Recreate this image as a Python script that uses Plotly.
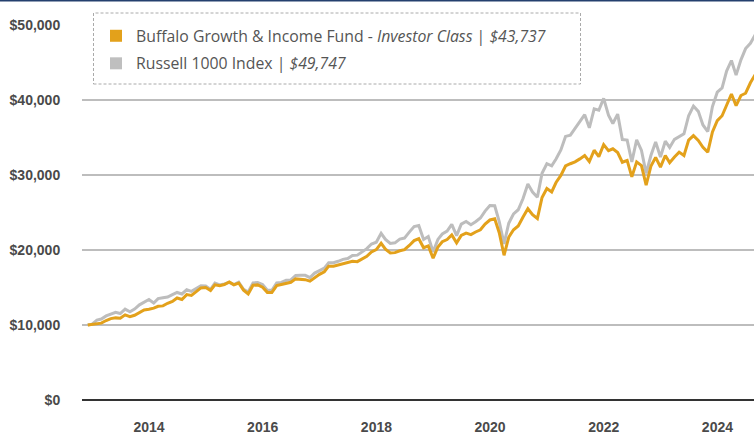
import pandas as pd
import plotly.graph_objects as go

# ---- data ----
start_date = "2012-12-03"
first_month_end = "2012-12-31"
n_month_ends = 142

fund_values = [
    10000, 10060,
    10150, 10250, 10600, 10850, 10950, 10900, 11350, 11100, 11300, 11700, 12000, 12100,
    12250, 12500, 12550, 12900, 13150, 13600, 13400, 14050, 13950, 14450, 14950, 15000,
    14600, 15350, 15250, 15400, 15750, 15350, 15600, 14650, 14150, 15300, 15350, 15050,
    14350, 14350, 15250, 15400, 15600, 15700, 16150, 16150, 16050, 15850, 16350, 16750,
    17100, 17850, 17850, 18000, 18200, 18300, 18500, 18450, 18800, 19150, 19750, 20050,
    20900, 20100, 19600, 19650, 19900, 20050, 20600, 21250, 21500, 20300, 20550, 18900,
    20400, 21100, 21400, 22000, 20950, 21950, 22250, 22050, 22400, 22700, 23450, 24000,
    24150, 22300, 19300, 21700, 22700, 23200, 24400, 25500, 24700, 24200, 27000, 28200,
    27750, 29000, 29950, 31200, 31500, 31750, 32150, 32600, 31800, 33300, 32450, 34050,
    33250, 33500, 33000, 31700, 31950, 29750, 31750, 31250, 28650, 31200, 32350, 31050,
    32600, 31650, 32400, 33050, 32600, 34650, 35250, 34600, 33700, 33050, 35750, 37250,
    37900, 39400, 40800, 39250, 40600, 40900, 42300, 43400, 43737,
]

index_values = [
    10000, 10120,
    10646, 10795, 11205, 11418, 11681, 11529, 12117, 11766, 12130, 12688, 13069, 13396,
    12927, 13522, 13630, 13725, 14041, 14336, 14135, 14700, 14494, 14842, 15243, 15197,
    14741, 15581, 15332, 15485, 15687, 15389, 15712, 14769, 14400, 15610, 15656, 15406,
    14636, 14621, 15615, 15678, 15960, 16008, 16600, 16617, 16617, 16318, 16922, 17260,
    17588, 18292, 18310, 18493, 18752, 18864, 19260, 19318, 19724, 20178, 20803, 21032,
    22231, 21408, 20873, 20956, 21459, 21588, 22387, 23126, 23265, 21400, 21800, 19750,
    21409, 22137, 22513, 23414, 21916, 23449, 23801, 23372, 23769, 24269, 25191, 25922,
    25896, 23773, 20825, 23575, 24824, 25370, 26867, 28801, 27736, 27043, 30233, 31503,
    31220, 32125, 33346, 35146, 35322, 36205, 36965, 38038, 36288, 38827, 38633, 40217,
    37965, 36864, 38117, 34725, 34655, 31744, 34696, 33274, 30213, 32630, 34392, 32397,
    34503, 33675, 34753, 35170, 35487, 37900, 39189, 38484, 36675, 35795, 39124, 41041,
    41616, 43863, 45267, 43320, 45356, 46853, 47556, 48697, 49747,
]

fund_name = "Buffalo Growth &amp; Income Fund - <i>Investor Class</i> | <i>$43,737</i>"
index_name = "Russell 1000 Index | <i>$49,747</i>"

tick_years = ["2014-01-01", "2016-01-01", "2018-01-01", "2020-01-01", "2022-01-01", "2024-01-01"]
tick_year_labels = ["2014", "2016", "2018", "2020", "2022", "2024"]
y_ticks = [0, 10000, 20000, 30000, 40000, 50000]
y_tick_labels = ["$0", "$10,000", "$20,000", "$30,000", "$40,000", "$50,000"]

# ---- figure ----
dates = [pd.Timestamp(start_date)] + list(
    pd.date_range(first_month_end, periods=n_month_ends, freq=pd.offsets.MonthEnd())
)

GOLD = "#E3A11B"
GRAY = "#BDBDBD"

W, H = 754, 435
L, R, T, B = 82, 0, 25, 35
plot_w = W - L - R
plot_h = H - T - B


def px_x(p):
    return (p - L) / plot_w


def px_y(p):
    return (H - B - p) / plot_h


fig = go.Figure()
fig.add_trace(go.Scatter(x=dates, y=index_values, mode="lines",
                         line=dict(color=GRAY, width=3), showlegend=False,
                         hoverinfo="skip"))
fig.add_trace(go.Scatter(x=dates, y=fund_values, mode="lines",
                         line=dict(color=GOLD, width=3), showlegend=False,
                         hoverinfo="skip"))
# legend entries (square swatches)
fig.add_trace(go.Scatter(x=[None], y=[None], mode="markers", name=fund_name,
                         legendgroup="fund",
                         marker=dict(symbol="square", size=12, color=GOLD)))
fig.add_trace(go.Scatter(x=[None], y=[None], mode="markers", name=index_name,
                         legendgroup="index",
                         marker=dict(symbol="square", size=12, color="#BFBFBF")))

tick_font = dict(family="Liberation Sans, Arial, sans-serif", size=14,
                 color="#4a4a4a", weight="bold")

fig.update_xaxes(
    type="date",
    range=["2012-10-27", "2024-08-23"],
    tickvals=tick_years, ticktext=tick_year_labels,
    ticks="outside", ticklen=14, tickcolor="rgba(0,0,0,0)",
    showgrid=False, zeroline=False, showline=False,
    tickfont=tick_font, automargin=False,
)
fig.update_yaxes(
    range=[0, 50000],
    tickvals=y_ticks, ticktext=y_tick_labels,
    ticks="outside", ticklen=18, tickcolor="rgba(0,0,0,0)",
    showgrid=True, gridcolor="#BDBDBD", gridwidth=1.5,
    zeroline=True, zerolinecolor="#333333", zerolinewidth=1.5,
    showline=False,
    tickfont=tick_font, automargin=False,
)

fig.update_layout(
    width=W, height=H,
    margin=dict(l=L, r=R, t=T, b=B),
    paper_bgcolor="white", plot_bgcolor="white",
    showlegend=True,
    legend=dict(
        x=px_x(96), y=px_y(19), xanchor="left", yanchor="top",
        bgcolor="rgba(0,0,0,0)", borderwidth=0,
        tracegroupgap=4,
        font=dict(family="Open Sans, sans-serif", size=15.8, color="#555555"),
        itemclick=False, itemdoubleclick=False,
    ),
    shapes=[
        dict(type="rect", xref="paper", yref="paper",
             x0=px_x(93.5), x1=px_x(580.5), y0=px_y(84), y1=px_y(13),
             fillcolor="white", line=dict(color="#AAAAAA", width=1, dash="3px,2px"),
             layer="above"),
        dict(type="rect", xref="paper", yref="paper",
             x0=-L / plot_w, x1=1, y0=px_y(1.6), y1=px_y(0),
             fillcolor="#24406E", line=dict(width=0), layer="above"),
    ],
)

fig.write_html("out.html")
